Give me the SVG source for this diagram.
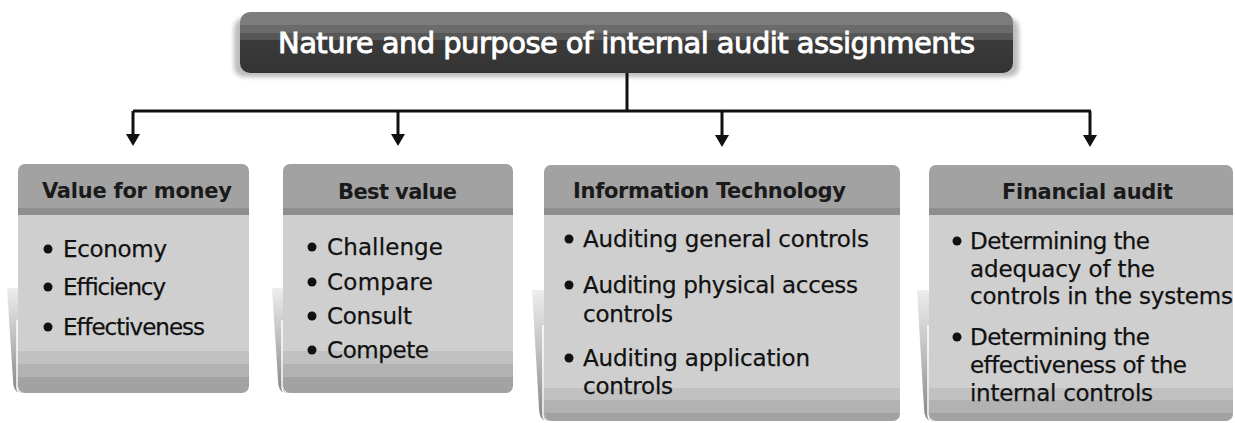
<svg xmlns="http://www.w3.org/2000/svg" width="1235" height="423" viewBox="0 0 1235 423">
<style>
.title{font-family:"DejaVu Sans","Liberation Sans",sans-serif;font-size:29px;fill:#ffffff;stroke:#ffffff;stroke-width:0.9}
.head{font-family:"DejaVu Sans","Liberation Sans",sans-serif;font-size:21px;font-weight:bold;fill:#1a1a1a}
.item{font-family:"DejaVu Sans","Liberation Sans",sans-serif;font-size:23px;fill:#111111;stroke:#111111;stroke-width:0.25}
.base{fill:#a2a2a2}
.hstrip{fill:#8e8e8e}
.body{fill:#cfcfcf}
.b1{fill:#c1c1c1}
.b2{fill:#b2b2b2}
.curl{fill:url(#curlg)}
.hl{fill:none;stroke:#ffffff;stroke-width:1.5}
.dot{fill:#111111}
.conn{fill:none;stroke:#111111;stroke-width:3}
</style>
<defs>
<linearGradient id="tg" x1="0" y1="12" x2="0" y2="73" gradientUnits="userSpaceOnUse">
<stop offset="0" stop-color="#7c7c7c"/>
<stop offset="0.21" stop-color="#7c7c7c"/>
<stop offset="0.21" stop-color="#6b6b6b"/>
<stop offset="0.34" stop-color="#6b6b6b"/>
<stop offset="0.34" stop-color="#575757"/>
<stop offset="0.46" stop-color="#575757"/>
<stop offset="0.46" stop-color="#3b3b3b"/>
<stop offset="1" stop-color="#333333"/>
</linearGradient>
<linearGradient id="curlg" x1="0" y1="0" x2="0" y2="1">
<stop offset="0" stop-color="#ededed"/>
<stop offset="0.5" stop-color="#bdbdbd"/>
<stop offset="1" stop-color="#858585"/>
</linearGradient>
<filter id="sh" x="-5%" y="-20%" width="110%" height="160%">
<feGaussianBlur stdDeviation="2"/>
</filter>
<marker id="ah" markerUnits="userSpaceOnUse" markerWidth="14" markerHeight="14" refX="6" refY="7" orient="auto">
<path d="M0,0 L12,7 L0,14 Z" fill="#111111"/>
</marker>
</defs>

<g id="title">
<rect x="234" y="18" width="785" height="59" rx="10" fill="#bdbdbd" filter="url(#sh)"/>
<rect x="240" y="12" width="773" height="61" rx="10" fill="url(#tg)"/>
<text class="title" x="278" y="53" textLength="697">Nature and purpose of internal audit assignments</text>
</g>

<g id="connectors">
<path class="conn" d="M627,73 V111"/>
<path class="conn" d="M133,111 H1091"/>
<path class="conn" d="M133,111 V140" marker-end="url(#ah)"/>
<path class="conn" d="M398,111 V140" marker-end="url(#ah)"/>
<path class="conn" d="M722,111 V141" marker-end="url(#ah)"/>
<path class="conn" d="M1090,111 V141" marker-end="url(#ah)"/>
</g>

<g id="value-for-money">
<path class="curl" d="M7,288 L18,288 L18,387 Q18,393 24,393 L20,393 Q13,392 13,380 Z"/>
<path class="hl" d="M17,320 L17,387 Q17,394 24,394"/>
<rect class="base" x="18" y="164" width="231" height="229" rx="7"/>
<rect class="hstrip" x="18" y="208" width="231" height="7"/>
<rect class="body" x="18" y="215" width="231" height="136"/>
<rect class="b1" x="18" y="351" width="231" height="13"/>
<rect class="b2" x="18" y="364" width="231" height="13"/>
<text class="head" x="42" y="198" textLength="190">Value for money</text>
<circle class="dot" cx="48" cy="249" r="4.5"/>
<text class="item" x="63" y="257" textLength="104">Economy</text>
<circle class="dot" cx="48" cy="287" r="4.5"/>
<text class="item" x="63" y="295" textLength="103">Efficiency</text>
<circle class="dot" cx="48" cy="327" r="4.5"/>
<text class="item" x="63" y="335" textLength="142">Effectiveness</text>
</g>

<g id="best-value">
<path class="curl" d="M272,288 L283,288 L283,387 Q283,393 289,393 L285,393 Q278,392 278,380 Z"/>
<path class="hl" d="M282,320 L282,387 Q282,394 289,394"/>
<rect class="base" x="283" y="164" width="230" height="229" rx="7"/>
<rect class="hstrip" x="283" y="208" width="230" height="7"/>
<rect class="body" x="283" y="215" width="230" height="136"/>
<rect class="b1" x="283" y="351" width="230" height="13"/>
<rect class="b2" x="283" y="364" width="230" height="13"/>
<text class="head" x="338" y="199" textLength="119">Best value</text>
<circle class="dot" cx="312" cy="247" r="4.5"/>
<text class="item" x="327" y="255" textLength="116">Challenge</text>
<circle class="dot" cx="312" cy="282" r="4.5"/>
<text class="item" x="327" y="290" textLength="106">Compare</text>
<circle class="dot" cx="312" cy="316" r="4.5"/>
<text class="item" x="327" y="324" textLength="85">Consult</text>
<circle class="dot" cx="312" cy="350" r="4.5"/>
<text class="item" x="327" y="358" textLength="102">Compete</text>
</g>

<g id="information-technology">
<path class="curl" d="M532,290 L544,290 L544,415 Q544,421 550,421 L546,421 Q539,420 539,408 Z"/>
<path class="hl" d="M543,325 L543,415 Q543,422 550,422"/>
<rect class="base" x="544" y="165" width="356" height="256" rx="7"/>
<rect class="hstrip" x="544" y="208" width="356" height="7"/>
<rect class="body" x="544" y="215" width="356" height="173"/>
<rect class="b1" x="544" y="388" width="356" height="12"/>
<rect class="b2" x="544" y="400" width="356" height="13"/>
<text class="head" x="573" y="198" textLength="273">Information Technology</text>
<circle class="dot" cx="569" cy="239" r="4.5"/>
<text class="item" x="583" y="247" textLength="286">Auditing general controls</text>
<circle class="dot" cx="569" cy="285" r="4.5"/>
<text class="item" x="583" y="293" textLength="275">Auditing physical access</text>
<text class="item" x="583" y="322" textLength="90">controls</text>
<circle class="dot" cx="569" cy="358" r="4.5"/>
<text class="item" x="583" y="366" textLength="227">Auditing application</text>
<text class="item" x="583" y="394" textLength="90">controls</text>
</g>

<g id="financial-audit">
<path class="curl" d="M917,290 L929,290 L929,415 Q929,421 935,421 L931,421 Q924,420 924,408 Z"/>
<path class="hl" d="M928,325 L928,415 Q928,422 935,422"/>
<rect class="base" x="929" y="165" width="304" height="256" rx="7"/>
<rect class="hstrip" x="929" y="208" width="304" height="7"/>
<rect class="body" x="929" y="215" width="304" height="173"/>
<rect class="b1" x="929" y="388" width="304" height="12"/>
<rect class="b2" x="929" y="400" width="304" height="13"/>
<text class="head" x="1002" y="199" textLength="171">Financial audit</text>
<circle class="dot" cx="957" cy="241" r="4.5"/>
<text class="item" x="970" y="249" textLength="180">Determining the</text>
<text class="item" x="970" y="277" textLength="185">adequacy of the</text>
<text class="item" x="970" y="304" textLength="263">controls in the systems</text>
<circle class="dot" cx="957" cy="337" r="4.5"/>
<text class="item" x="970" y="345" textLength="180">Determining the</text>
<text class="item" x="970" y="373" textLength="217">effectiveness of the</text>
<text class="item" x="970" y="401" textLength="183">internal controls</text>
</g>
</svg>
